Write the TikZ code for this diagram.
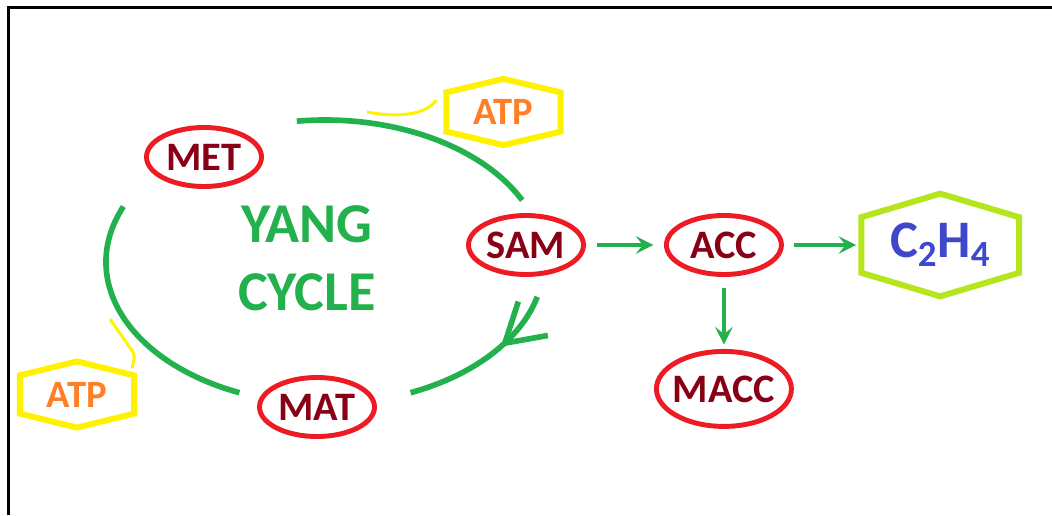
\documentclass[tikz,border=0pt]{standalone}
\usepackage{fontspec}
\setmainfont{Carlito}
\usepackage{xcolor}
\usepackage{tikz}
\usetikzlibrary{calc, positioning, arrows.meta, shapes.geometric, decorations.markings}

\definecolor{paintred}{HTML}{ED1C24}
\definecolor{darkred}{HTML}{880015}
\definecolor{paintgreen}{HTML}{22B14C}
\definecolor{paintyellow}{HTML}{FFF200}
\definecolor{paintorange}{HTML}{FF7F27}
\definecolor{paintlime}{HTML}{B5E61D}
\definecolor{paintblue}{HTML}{3F48CC}

% hexagon with pointed top and bottom round a box node
\newcommand{\hexpath}[2]{(#1.north) -- ([yshift=-#2]#1.north east) -- ([yshift=#2]#1.south east) -- (#1.south) -- ([yshift=#2]#1.south west) -- ([yshift=-#2]#1.north west) -- cycle}

\begin{document}
\begin{tikzpicture}
  [compound/.style={ellipse, draw=paintred, line width=2.8pt, inner sep=0pt,
     minimum width=2.3cm, minimum height=1.18cm, text=darkred,
     font=\bfseries\fontsize{23}{27}\selectfont},
   hexbox/.style={inner sep=0pt, minimum width=2.27cm, minimum height=1.31cm,
     text=paintorange, font=\bfseries\fontsize{22}{26}\selectfont},
   atpline/.style={draw=paintyellow, line width=3.4pt},
   limeline/.style={draw=paintlime, line width=3.4pt},
   atplink/.style={draw=paintyellow, line width=1.7pt},
   cycarc/.style={draw=paintgreen, line width=3.2pt},
   flowarrow/.style={-{Stealth[length=10pt, width=10pt, inset=4pt]}, draw=paintgreen,
     line width=2pt, shorten <=6pt, shorten >=6pt},
   frameline/.style={draw=black, line width=1.8pt}]
  \useasboundingbox (0,0) rectangle (21.04,10.3);
  \draw[frameline] (0.17,0) -- (0.17,10.15) -- (21.04,10.15);

  % nodes %
  \node[compound] (met) at (4.08,7.16) {MET};
  \node[compound] (sam) at (10.52,5.40) {SAM};
  \node[compound] (mat) at (6.34,2.16) {MAT};
  \node[compound, right=1.56cm of sam] (acc) {ACC};
  \node[compound, below=1.44cm of acc, inner xsep=-2.5pt, minimum width=2.7cm, minimum height=1.5cm] (macc) {MACC};
  \node[hexbox, right=1.55cm of acc, minimum width=3.14cm, minimum height=2.04cm,
    text=paintblue, font=\bfseries\fontsize{30}{34}\selectfont] (c2h4) {C\textsubscript{2}H\textsubscript{4}};
  \node[hexbox] (atpa) at (10.07,8.06) {ATP};
  \node[hexbox] (atpb) at (1.54,2.41) {ATP};
  \node[text=paintgreen, align=center, font=\bfseries\fontsize{32}{38.5}\selectfont]
    (yang) at (6.14,5.14) {YANG\\CYCLE};
  \coordinate (yc) at (6.5,5.06);
  \coordinate (linka) at (7.34,8.06);
  \coordinate (linkb) at (2.2,3.92);

  % hexagons %
  \draw[atpline] \hexpath{atpa}{0.27cm};
  \draw[atpline] \hexpath{atpb}{0.28cm};
  \draw[limeline] \hexpath{c2h4}{0.47cm};

  % edges %
  \draw[cycarc] (yc) ++(97.4:4.38cm and 2.84cm)
    arc[start angle=97.4, end angle=25.8, x radius=4.38cm, y radius=2.84cm];
  \draw[cycarc, postaction={decorate}, decoration={markings,
      mark=at position 0.38 with {\arrow{Straight Barb[length=0.75cm, width=0.9cm]}}}]
    (yc) ++(-14.2:4.38cm and 2.84cm)
    arc[start angle=-14.2, end angle=-67, x radius=4.38cm, y radius=2.84cm];
  \draw[cycarc] (yc) ++(-113:4.38cm and 2.84cm)
    arc[start angle=-113, end angle=-203, x radius=4.38cm, y radius=2.84cm];
  \draw[flowarrow] (sam) -- (acc);
  \draw[flowarrow, shorten >=3pt] (acc) -- (c2h4);
  \draw[flowarrow, shorten >=2.5pt] (acc) -- (macc);
  \draw[atplink] (linka) .. controls (7.9,7.95) and (8.5,7.98) .. ([shift={(-0.2,0.24)}]atpa.west);
  \draw[atplink, rounded corners=2pt] (linkb) -- (2.7,3.2) -- ([shift={(-0.04,-0.14)}]atpb.north east);
\end{tikzpicture}
\end{document}
